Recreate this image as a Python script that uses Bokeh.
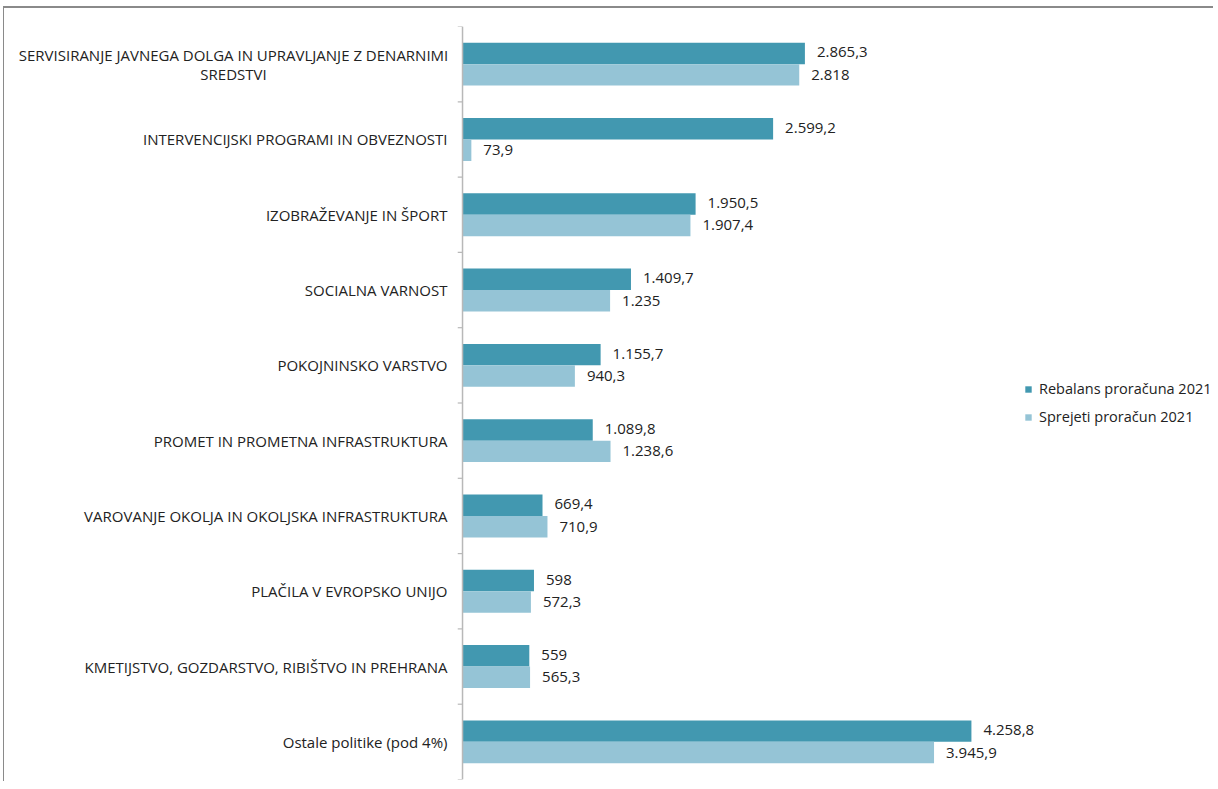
from bokeh.plotting import figure
from bokeh.models import Range1d, ColumnDataSource, Legend, LegendItem
from bokeh.core.properties import value
from bokeh.embed import file_html
from bokeh.resources import INLINE

categories = [
    "SERVISIRANJE JAVNEGA DOLGA IN UPRAVLJANJE Z DENARNIMI\nSREDSTVI",
    "INTERVENCIJSKI PROGRAMI IN OBVEZNOSTI",
    "IZOBRAŽEVANJE IN ŠPORT",
    "SOCIALNA VARNOST",
    "POKOJNINSKO VARSTVO",
    "PROMET IN PROMETNA INFRASTRUKTURA",
    "VAROVANJE OKOLJA IN OKOLJSKA INFRASTRUKTURA",
    "PLAČILA V EVROPSKO UNIJO",
    "KMETIJSTVO, GOZDARSTVO, RIBIŠTVO IN PREHRANA",
    "Ostale politike (pod 4%)",
]
rebalans = [2865.3, 2599.2, 1950.5, 1409.7, 1155.7, 1089.8, 669.4, 598, 559, 4258.8]
sprejeti = [2818, 73.9, 1907.4, 1235, 940.3, 1238.6, 710.9, 572.3, 565.3, 3945.9]
series_names = ["Rebalans proračuna 2021", "Sprejeti proračun 2021"]

DARK = "#4298b0"
LIGHT = "#95c4d6"
FONT = "Open Sans"


def fmt(v):
    if float(v).is_integer():
        s = f"{int(v):,}".replace(",", ".")
    else:
        s = f"{v:,.1f}".replace(",", "X").replace(".", ",").replace("X", ".")
    return s


n = len(categories)
centers = [n - 0.5 - i for i in range(n)]
bh = 0.285

W, H = 1210, 775
p = figure(width=W, height=H, output_backend="svg", toolbar_location=None,
           x_range=Range1d(-3833, 6293), y_range=Range1d(0, n),
           min_border_left=0, min_border_right=0, min_border_top=18, min_border_bottom=4,
           styles={"border-top": "2px solid #8a8a8a", "border-left": "1px solid #8a8a8a",
                   "margin-top": "6px", "margin-left": "3px"})
p.xaxis.visible = False
p.yaxis.visible = False
p.grid.visible = False
p.outline_line_color = None

src = ColumnDataSource(dict(
    y_dark=[c + bh / 2 for c in centers],
    y_light=[c - bh / 2 for c in centers],
    reb=rebalans, spr=sprejeti,
    reb_lab=[fmt(v) for v in rebalans], spr_lab=[fmt(v) for v in sprejeti],
))

r1 = p.hbar(y="y_dark", left=0, right="reb", height=bh, source=src,
            fill_color=DARK, line_color=None)
r2 = p.hbar(y="y_light", left=0, right="spr", height=bh, source=src,
            fill_color=LIGHT, line_color=None)

p.text(x="reb", y="y_dark", text="reb_lab", source=src, x_offset=12, y_offset=-1,
       text_baseline="middle", text_align="left", text_font=value(FONT),
       text_font_size="15px", text_color="#222222")
p.text(x="spr", y="y_light", text="spr_lab", source=src, x_offset=12, y_offset=0,
       text_baseline="middle", text_align="left", text_font=value(FONT),
       text_font_size="15px", text_color="#222222")

# axis line and ticks
p.segment(x0=0, y0=0, x1=0, y1=n, line_color="#b8b8b8", line_width=1.5)
bounds = list(range(n + 1))
p.segment(x0=[-40] * len(bounds), y0=bounds, x1=[0] * len(bounds), y1=bounds,
          line_color="#b8b8b8", line_width=1.2)

# category labels
single = [c for c in categories if "\n" not in c]
single_y = [centers[i] for i, c in enumerate(categories) if "\n" not in c]
p.text(x=0, y=single_y, text=single, x_offset=-15, text_align="right",
       text_baseline="middle", text_font=value(FONT), text_font_size="15px",
       text_color="#222222")
multi = [c for c in categories if "\n" in c]
multi_y = [centers[i] for i, c in enumerate(categories) if "\n" in c]
p.text(x=0, y=multi_y, text=multi, x_offset=-229, text_align="center",
       text_baseline="middle", text_font=value(FONT), text_font_size="15px",
       text_color="#222222", text_line_height=0.95)

legend = Legend(items=[LegendItem(label=series_names[0], renderers=[r1]),
                       LegendItem(label=series_names[1], renderers=[r2])],
                location=(1020, 353), glyph_width=8, glyph_height=8,
                label_height=15, spacing=9, padding=0, margin=0,
                label_standoff=7, border_line_color=None,
                background_fill_alpha=0, label_text_font=FONT,
                label_text_font_size="14.5px", label_text_color="#222222")
p.add_layout(legend)

open("out.html", "w").write(file_html(p, INLINE))
